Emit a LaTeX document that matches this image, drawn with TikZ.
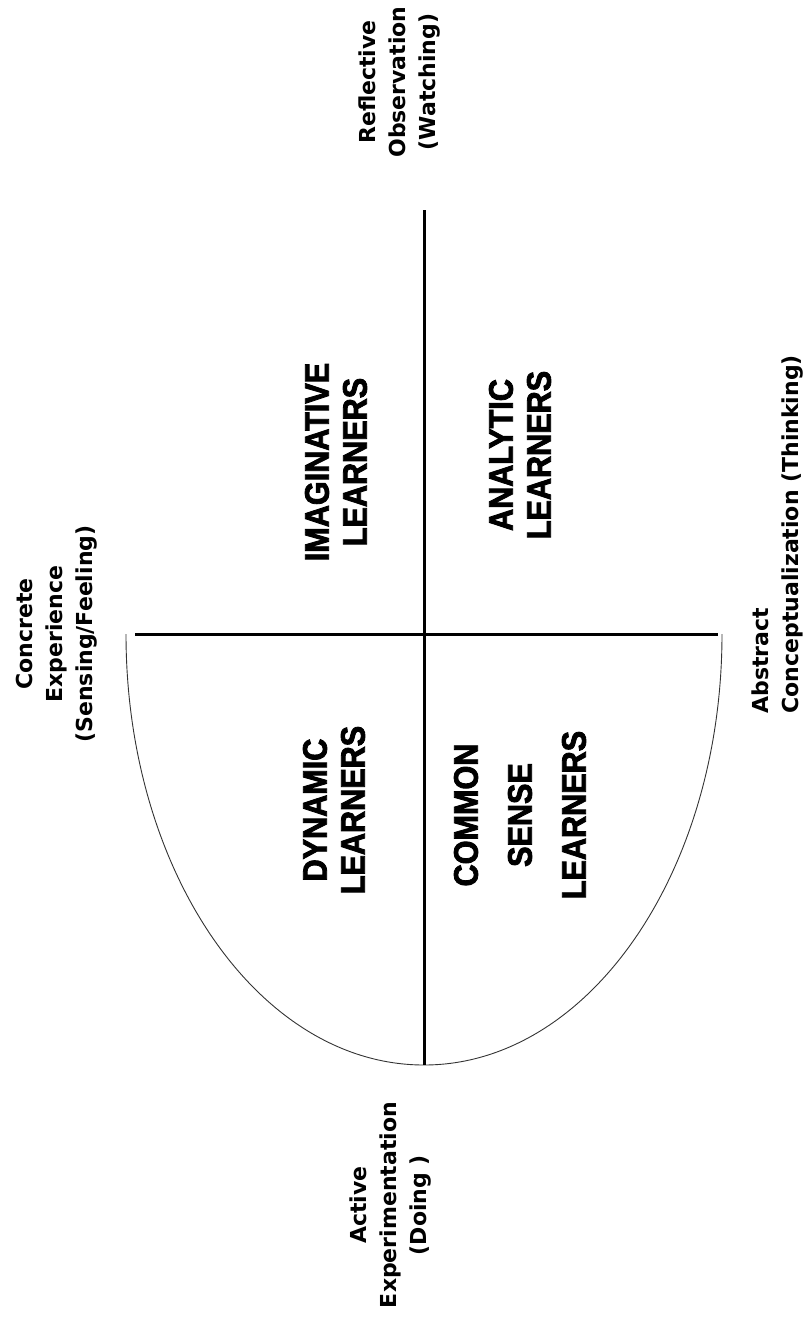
\documentclass[tikz,border=0pt]{standalone}
\usepackage{fontspec}
\setmainfont{DejaVu Sans}
\newfontfamily\learnfont[FakeStretch=0.9,FakeBold=2.5]{Liberation Sans}
\usetikzlibrary{positioning}

\begin{document}
\begin{tikzpicture}[x=1pt,y=-1pt,
    axis label/.style={rotate=90,align=center,font=\fontsize{22}{30}\selectfont\bfseries},
    learner/.style={rotate=90,align=center,font=\learnfont\fontsize{34}{38}\selectfont\bfseries},
    axis/.style={line width=3pt}]
  \useasboundingbox (0,0) rectangle (807,1318);

  \coordinate (mid) at (424,634);
  \coordinate (top) at (424,210);
  \coordinate (bottom) at (424,1065);
  \coordinate (left) at (135,634);
  \coordinate (right) at (718,634);
  \coordinate (rim) at (722,634);

  % lower half of the ellipse
  \draw[line width=0.9pt,black!80] (rim) arc[start angle=0,end angle=180,x radius=298,y radius=431];
  \draw[axis] (top) -- (bottom);
  \draw[axis] (left) -- (right);

  \node[axis label] (refl) at (400,82) {Reflective\\Observation\\(Watching)};
  \node[axis label] (act) at (391,1205) {Active\\Experimentation\\(Doing )};
  \node[axis label] (conc) at (57,634) {Concrete\\Experience\\(Sensing/Feeling)};
  \node[axis label,align=left,anchor=west] (abst) at (778,717) {Abstract\\Conceptualization (Thinking)};

  \node[learner] (imag) at (336,462) {IMAGINATIVE\\LEARNERS};
  \node[learner] (anal) at (520,455) {ANALYTIC\\LEARNERS};
  \node[learner] (dyn) at (334,810) {DYNAMIC\\LEARNERS};
  \node[learner,font=\learnfont\fontsize{34}{54}\selectfont\bfseries] (comm) at (520,815) {COMMON\\SENSE\\LEARNERS};
\end{tikzpicture}
\end{document}
